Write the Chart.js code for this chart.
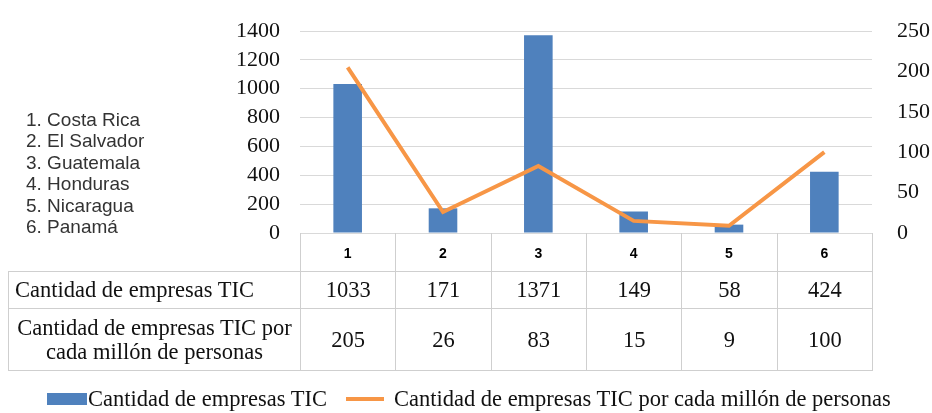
<!DOCTYPE html>
<html>
<head>
<meta charset="utf-8">
<script src="https://cdn.jsdelivr.net/npm/chart.js@4.4.1/dist/chart.umd.min.js"></script>
<style>
  body { margin: 0; background: #fff; }
  #wrap { position: relative; width: 932px; height: 413px; overflow: hidden; }
  #chart { position: absolute; left: 0; top: 0; }
  #countries {
    position: absolute; left: 26px; top: 109px;
    font: 19px "Liberation Sans", Arial, sans-serif; line-height: 21.4px; color: #333;
  }
  #table {
    position: absolute; left: 8px; top: 271px; width: 865px; table-layout: fixed;
    border-collapse: collapse; font: 22.5px "Liberation Serif", "Times New Roman", serif; color: #111;
  }
  #table td { border: 1px solid #cfcfcf; padding: 0; text-align: center; white-space: nowrap; }
  #legend {
    position: absolute; left: 47px; top: 386px; display: flex; align-items: center;
    font: 22.5px "Liberation Serif", "Times New Roman", serif; color: #111; white-space: nowrap;
  }
  .box { width: 40px; height: 12px; background: #4f81bd; margin-right: 1px; }
  .ln { width: 38px; height: 4px; background: #f79646; margin-left: 19px; margin-right: 10px; }
</style>
</head>
<body>
<div id="wrap">
  <canvas id="chart" width="932" height="413"></canvas>
  <div id="countries"></div>
  <table id="table"></table>
  <div id="legend"></div>
</div>
<script>
const categories = ['1', '2', '3', '4', '5', '6'];
const countries = ['1. Costa Rica', '2. El Salvador', '3. Guatemala', '4. Honduras', '5. Nicaragua', '6. Panamá'];
const empresas = [1033, 171, 1371, 149, 58, 424];
const porMillon = [205, 26, 83, 15, 9, 100];
const seriesNames = ['Cantidad de empresas TIC', 'Cantidad de empresas TIC por cada millón de personas'];
const rowLabels = ['Cantidad de empresas TIC', 'Cantidad de empresas TIC por<br>cada millón de personas'];
const leftMax = 1400, leftStep = 200;
const rightMax = 250, rightStep = 50;

const blue = '#4f81bd';
const orange = '#f79646';
const gridColor = '#d9d9d9';
const serif = '"Liberation Serif", "Times New Roman", serif';

// country key on the left
document.getElementById('countries').innerHTML = countries.map(c => '<div>' + c + '</div>').join('');

// data table under the chart
const tbl = document.getElementById('table');
tbl.innerHTML =
  '<colgroup><col style="width:292px">' + categories.map(() => '<col>').join('') + '</colgroup>' +
  '<tr style="height:37px"><td style="text-align:left;padding-left:6px">' + rowLabels[0] + '</td>' +
  empresas.map(v => '<td>' + v + '</td>').join('') + '</tr>' +
  '<tr style="height:62px"><td style="line-height:24px">' + rowLabels[1] + '</td>' +
  porMillon.map(v => '<td>' + v + '</td>').join('') + '</tr>';

// legend
document.getElementById('legend').innerHTML =
  '<div class="box"></div><span>' + seriesNames[0] + '</span>' +
  '<div class="ln"></div><span>' + seriesNames[1] + '</span>';

// vertical lines of the header row (category numbers)
const headerGrid = {
  id: 'headerGrid',
  afterDraw(chart) {
    const x = chart.scales.x;
    const top = chart.chartArea.bottom;
    const ctx = chart.ctx;
    ctx.save();
    ctx.strokeStyle = '#cfcfcf';
    ctx.lineWidth = 1;
    for (let i = 0; i <= categories.length; i++) {
      const px = Math.round(x.getPixelForValue(i - 0.5)) + 0.5;
      ctx.beginPath();
      ctx.moveTo(px, top);
      ctx.lineTo(px, top + 38);
      ctx.stroke();
    }
    ctx.restore();
  }
};

const fixY = w => s => { s.width = w; s.paddingTop = 0; s.paddingBottom = 0; };

new Chart(document.getElementById('chart'), {
  data: {
    labels: categories,
    datasets: [
      {
        type: 'line',
        label: seriesNames[1],
        data: porMillon,
        yAxisID: 'y1',
        borderColor: orange,
        borderWidth: 4,
        pointRadius: 0,
        tension: 0,
        order: 0
      },
      {
        type: 'bar',
        label: seriesNames[0],
        data: empresas,
        yAxisID: 'y',
        backgroundColor: blue,
        categoryPercentage: 1,
        barPercentage: 0.3,
        order: 1
      }
    ]
  },
  options: {
    responsive: false,
    animation: false,
    layout: { padding: { top: 31, left: 0, right: 0, bottom: 0 } },
    plugins: { legend: { display: false }, tooltip: { enabled: false } },
    scales: {
      x: {
        grid: { display: false },
        border: { display: false },
        ticks: { color: '#000', padding: 5, font: { family: '"Liberation Sans", Arial, sans-serif', size: 14, weight: 'bold' } },
        afterFit: s => { s.height = 180; }
      },
      y: {
        position: 'left',
        min: 0, max: leftMax,
        ticks: { stepSize: leftStep, autoSkip: false, callback: v => String(v), color: '#111', padding: 20, font: { family: serif, size: 22 } },
        grid: { color: gridColor, drawTicks: false },
        border: { display: false },
        afterFit: fixY(300)
      },
      y1: {
        position: 'right',
        min: 0, max: rightMax,
        ticks: { stepSize: rightStep, autoSkip: false, callback: v => String(v), color: '#111', padding: 25, font: { family: serif, size: 22 } },
        grid: { drawOnChartArea: false, drawTicks: false },
        border: { display: false },
        afterFit: fixY(60)
      }
    }
  },
  plugins: [headerGrid]
});
</script>
</body>
</html>
